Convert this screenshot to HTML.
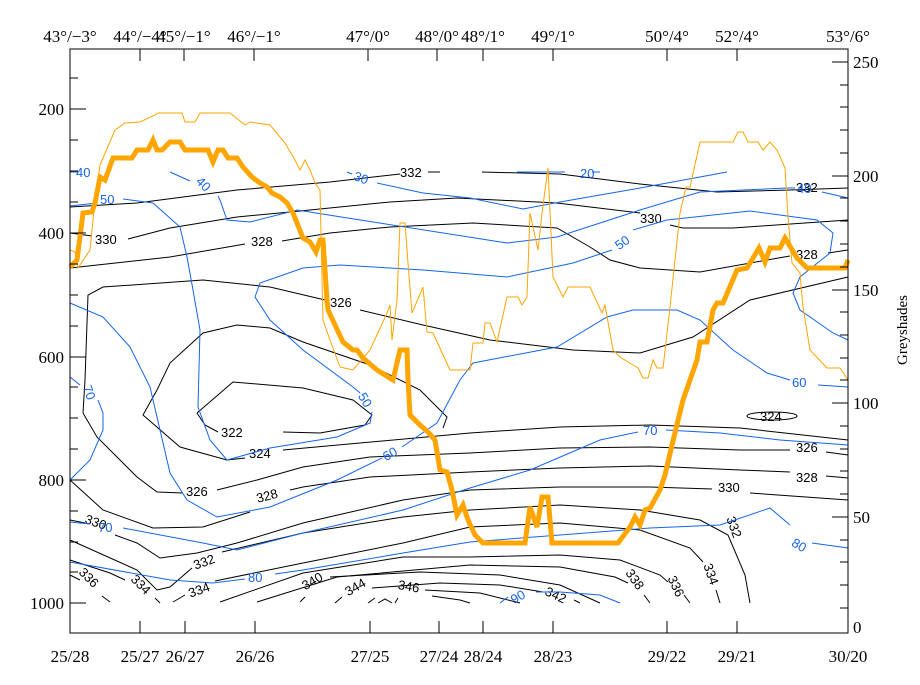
<!DOCTYPE html>
<html><head><meta charset="utf-8"><style>
html,body{margin:0;padding:0;background:#fff;}
svg{display:block;}
text{font-family:"Liberation Serif",serif;font-size:17px;fill:#000;}
.k{fill:none;stroke:#000;stroke-width:1;}
.b{fill:none;stroke:#1464f0;stroke-width:1;}
.lb{font-family:"Liberation Sans",sans-serif;font-size:13px;fill:#000;}
.lbb{font-family:"Liberation Sans",sans-serif;font-size:13px;fill:#1464f0;}
</style></head><body>
<svg width="920" height="685" viewBox="0 0 920 685" xmlns="http://www.w3.org/2000/svg">
<rect width="920" height="685" fill="#fff"/>
<!-- black contours -->
<polyline class="k" points="70,207 137,203 237,190 330,182 400,174"/>
<polyline class="k" points="428,172 440,172"/>
<polyline class="k" points="482,172 560,174 640,184 717,192 790,190 848,188"/>
<polyline class="k" points="70,233 92,236"/>
<polyline class="k" points="128,239 170,228 237,217 290,212 390,202 457,198 557,203 640,213"/>
<polyline class="k" points="670,225 683,228 733,228 848,220"/>
<polyline class="k" points="70,268 170,257 245,244"/>
<polyline class="k" points="282,241 330,233 390,227 473,223 557,228 590,247 610,260 640,268 700,272 767,260 790,256"/>
<polyline class="k" points="828,253 848,250"/>
<polyline class="k" points="83,413 85,380 88,295 103,287 203,280 270,287 325,300"/>
<polyline class="k" points="360,310 423,325 490,340 573,350 640,353 693,337 750,300 848,277"/>
<polyline class="k" points="83,413 97,437 137,477 157,492 183,493"/>
<polyline class="k" points="217,490 257,480 303,467 370,457 470,453 560,448 650,447 740,450 790,450"/>
<polyline class="k" points="826,452 848,455"/>
<polyline class="k" points="197,413 233,382 303,388 353,400 372,415 365,425 320,433 283,432"/>
<polyline class="k" points="197,413 205,425 218,432"/>
<polyline class="k" points="283,450 470,433 560,427 650,425 740,428 848,440"/>
<polyline class="k" points="227,460 180,447 143,415 157,390 170,363 203,333 237,325 270,328 303,342 370,365 420,390 447,417 443,428"/>
<polyline class="k" points="227,460 245,458"/>
<ellipse class="k" cx="772" cy="416" rx="25" ry="4"/>
<polyline class="k" points="70,480 103,510 153,528 203,527 250,512"/>
<polyline class="k" points="290,490 303,487 370,477 470,472 560,468 650,466 740,470 790,472"/>
<polyline class="k" points="826,476 848,478"/>
<polyline class="k" points="70,520 85,523"/>
<polyline class="k" points="115,535 137,543 160,558 197,553 237,543 303,523 403,500 470,490 560,487 650,487 712,489"/>
<polyline class="k" points="750,493 848,500"/>
<polyline class="k" points="70,540 137,570 157,590 170,587 192,568"/>
<polyline class="k" points="222,552 303,533 403,517 470,510 560,505 640,510 700,520 728,535 745,575 750,603"/>
<polyline class="k" points="70,560 110,573 125,580"/>
<polyline class="k" points="155,598 160,603"/>
<polyline class="k" points="173,602 185,595"/>
<polyline class="k" points="215,581 303,563 403,543 470,527 560,523 640,530 690,548 703,562"/>
<polyline class="k" points="716,590 720,603"/>
<polyline class="k" points="70,575 80,580"/>
<polyline class="k" points="102,596 110,602"/>
<polyline class="k" points="220,602 303,573 403,557 470,557 560,555 620,560 660,575 668,582"/>
<polyline class="k" points="684,595 690,603"/>
<polyline class="k" points="257,602 337,577 470,565 560,567 615,577 628,583"/>
<polyline class="k" points="644,595 650,603"/>
<polyline class="k" points="300,602 305,597"/>
<polyline class="k" points="330,577 420,572 500,575 560,585 600,603"/>
<polyline class="k" points="335,603 342,597"/>
<polyline class="k" points="372,588 440,583 500,585 543,592"/>
<polyline class="k" points="574,600 580,603"/>
<polyline class="k" points="368,603 375,598"/>
<polyline class="k" points="425,590 480,593 520,603"/>
<polyline class="k" points="395,603 398,598"/>
<polyline class="k" points="432,596 460,600 470,603"/>
<polyline class="k" points="378,603 385,599 392,603"/>
<!-- black labels -->
<text class="lb" x="400" y="177">332</text>
<text class="lb" x="95" y="244">330</text>
<text class="lb" x="251" y="246">328</text>
<text class="lb" x="330" y="307">326</text>
<text class="lb" x="640" y="223">330</text>
<text class="lb" x="796" y="259">328</text>
<text class="lb" x="796" y="192">332</text>
<text class="lb" x="221" y="437">322</text>
<text class="lb" x="249" y="458">324</text>
<text class="lb" x="186" y="496">326</text>
<text class="lb" x="256" y="500" transform="rotate(-15 268 495)">328</text>
<text class="lb" x="85" y="527" transform="rotate(20 97 522)">330</text>
<text class="lb" x="193" y="566" transform="rotate(-20 205 561)">332</text>
<text class="lb" x="188" y="594" transform="rotate(-20 200 589)">334</text>
<text class="lb" x="130" y="590" transform="rotate(45 142 585)">334</text>
<text class="lb" x="78" y="583" transform="rotate(45 90 578)">336</text>
<text class="lb" x="301" y="585" transform="rotate(-30 313 580)">340</text>
<text class="lb" x="344" y="591" transform="rotate(-30 356 586)">344</text>
<text class="lb" x="398" y="591" transform="rotate(10 410 586)">346</text>
<text class="lb" x="545" y="600" transform="rotate(25 557 595)">342</text>
<text class="lb" x="624" y="585" transform="rotate(55 636 580)">338</text>
<text class="lb" x="665" y="592" transform="rotate(65 677 587)">336</text>
<text class="lb" x="700" y="580" transform="rotate(70 712 575)">334</text>
<text class="lb" x="723" y="533" transform="rotate(70 735 528)">332</text>
<text class="lb" x="760" y="421">324</text>
<text class="lb" x="796" y="452">326</text>
<text class="lb" x="796" y="482">328</text>
<text class="lb" x="718" y="492">330</text>
<!-- blue contours -->
<polyline class="b" points="70,172 78,172"/>
<polyline class="b" points="70,206 97,203"/>
<polyline class="b" points="347,172 352,174"/>
<polyline class="b" points="377,183 423,193 470,198 523,209 560,202 600,195 640,188 727,172"/>
<polyline class="b" points="517,172 565,172"/>
<polyline class="b" points="592,172 600,172"/>
<polyline class="b" points="170,172 190,181"/>
<polyline class="b" points="218,196 220,200 227,220 250,222 297,210 373,222 507,243 557,237 640,210 700,192 787,188 795,188"/>
<polyline class="b" points="822,192 848,198"/>
<polyline class="b" points="123,199 153,203 180,227 187,257 193,290 200,330 198,407 210,440 227,460 270,448 337,437 370,423 372,412"/>
<polyline class="b" points="360,393 353,387 303,350 270,320 255,297 260,283 303,268 340,265 423,270 507,277 573,263 612,250"/>
<polyline class="b" points="633,230 667,220 750,211 817,220 833,233 830,253 800,277 793,293 800,310 833,333 848,340"/>
<polyline class="b" points="70,303 103,317 130,347 150,387 160,430 170,473 187,500 217,517 270,507 337,480 382,458"/>
<polyline class="b" points="402,447 437,423 460,380 473,363 557,347 607,317 633,310 677,310 700,320 733,350 767,373 790,380"/>
<polyline class="b" points="818,385 848,387"/>
<polyline class="b" points="70,377 80,385"/>
<polyline class="b" points="98,400 103,413 103,430 90,460 70,480"/>
<polyline class="b" points="70,522 90,524"/>
<polyline class="b" points="123,528 203,543 237,550 303,533 403,510 470,488 530,470 600,440 638,432"/>
<polyline class="b" points="666,430 720,433 780,440 848,445"/>
<polyline class="b" points="70,562 170,580 213,583 245,579"/>
<polyline class="b" points="275,574 303,570 403,553 470,542 560,535 650,528 720,525 770,508 790,525"/>
<polyline class="b" points="812,543 848,548"/>
<polyline class="b" points="500,603 508,597"/>
<polyline class="b" points="536,592 560,592 600,595 620,603"/>
<text class="lbb" x="76" y="177">40</text>
<text class="lbb" x="100" y="204">50</text>
<text class="lbb" x="354" y="183" transform="rotate(20 363 178)">30</text>
<text class="lbb" x="580" y="178">20</text>
<text class="lbb" x="196" y="190" transform="rotate(45 205 185)">40</text>
<text class="lbb" x="797" y="193">40</text>
<text class="lbb" x="614" y="245" transform="rotate(-35 625 240)">50</text>
<text class="lbb" x="357" y="407" transform="rotate(60 367 402)">50</text>
<text class="lbb" x="382" y="457" transform="rotate(-30 392 452)">60</text>
<text class="lbb" x="792" y="387">60</text>
<text class="lbb" x="82" y="398" transform="rotate(70 90 393)">70</text>
<text class="lbb" x="643" y="435">70</text>
<text class="lbb" x="98" y="532">70</text>
<text class="lbb" x="248" y="582">80</text>
<text class="lbb" x="792" y="550" transform="rotate(30 800 545)">80</text>
<text class="lbb" x="510" y="600" transform="rotate(-30 520 595)">90</text>
<!-- orange thin -->
<polyline fill="none" stroke="#ffa500" stroke-width="1" points="70,250 75,252 78,268 90,250 95,200 100,165 115,130 125,123 140,122 155,115 158,113 182,113 185,122 195,122 200,113 230,113 245,125 250,122 270,125 285,143 295,160 300,170 305,160 310,170 315,183 320,190 323,320 330,340 340,367 353,370 370,350 387,313 390,305 392,340 397,300 400,223 405,223 408,263 412,313 423,287 427,332 433,333 450,370 470,370 473,343 483,343 485,323 490,323 497,342 507,297 518,297 522,305 527,297 530,213 538,250 542,213 548,168 553,277 563,297 568,287 590,287 602,313 605,305 613,350 620,357 638,368 643,378 648,378 653,360 657,368 663,368 670,307 680,213 686,187 690,187 700,142 733,142 738,132 743,132 748,142 758,142 763,150 770,142 777,150 785,168 788,217 792,263 800,273 803,307 810,350 827,368 840,368 848,380"/>
<!-- orange thick -->
<polyline fill="none" stroke="#ffa500" stroke-width="5" stroke-linejoin="miter" points="70,267 77,260 83,213 92,212 95,203 100,177 105,180 113,158 132,158 137,150 148,150 153,140 157,150 162,150 170,142 180,142 185,150 208,150 213,162 218,150 223,150 228,158 237,158 243,167 252,177 260,183 267,187 272,193 280,197 287,203 293,213 303,238 310,242 316,252 320,240 323,240 327,300 328,310 343,342 353,350 357,350 363,358 377,370 393,380 400,350 407,350 408,380 410,415 420,425 428,432 435,440 440,470 447,472 452,490 457,515 463,505 468,520 475,535 483,543 525,543 530,507 537,527 542,497 548,497 552,543 618,543 630,527 635,517 640,525 645,510 650,508 660,490 665,475 672,445 683,400 697,360 700,342 707,342 713,310 717,303 723,303 737,270 747,268 759,248 765,262 770,248 780,248 785,238 797,258 807,268 845,268 848,260"/>
<!-- axes -->
<rect x="70" y="49" width="778" height="584" fill="none" stroke="#000" stroke-width="1"/>
<g stroke="#000" stroke-width="1">
<line x1="140" y1="49" x2="140" y2="61"/><line x1="184" y1="49" x2="184" y2="61"/><line x1="254" y1="49" x2="254" y2="61"/><line x1="368" y1="49" x2="368" y2="61"/><line x1="437" y1="49" x2="437" y2="61"/><line x1="483" y1="49" x2="483" y2="61"/><line x1="553" y1="49" x2="553" y2="61"/><line x1="667" y1="49" x2="667" y2="61"/><line x1="737" y1="49" x2="737" y2="61"/>
<line x1="140" y1="633" x2="140" y2="621"/><line x1="185" y1="633" x2="185" y2="621"/><line x1="255" y1="633" x2="255" y2="621"/><line x1="370" y1="633" x2="370" y2="621"/><line x1="439" y1="633" x2="439" y2="621"/><line x1="483" y1="633" x2="483" y2="621"/><line x1="553" y1="633" x2="553" y2="621"/><line x1="667" y1="633" x2="667" y2="621"/><line x1="737" y1="633" x2="737" y2="621"/>
<line x1="70" y1="78" x2="78" y2="78"/><line x1="70" y1="109" x2="86" y2="109"/><line x1="70" y1="140" x2="78" y2="140"/><line x1="70" y1="171" x2="78" y2="171"/><line x1="70" y1="202" x2="78" y2="202"/><line x1="70" y1="233" x2="86" y2="233"/><line x1="70" y1="264" x2="78" y2="264"/><line x1="70" y1="295" x2="78" y2="295"/><line x1="70" y1="326" x2="78" y2="326"/><line x1="70" y1="357" x2="86" y2="357"/><line x1="70" y1="387" x2="78" y2="387"/><line x1="70" y1="418" x2="78" y2="418"/><line x1="70" y1="449" x2="78" y2="449"/><line x1="70" y1="480" x2="86" y2="480"/><line x1="70" y1="511" x2="78" y2="511"/><line x1="70" y1="542" x2="78" y2="542"/><line x1="70" y1="572" x2="78" y2="572"/><line x1="70" y1="603" x2="86" y2="603"/>
<line x1="848" y1="62" x2="832" y2="62"/><line x1="848" y1="85" x2="840" y2="85"/><line x1="848" y1="107" x2="840" y2="107"/><line x1="848" y1="130" x2="840" y2="130"/><line x1="848" y1="153" x2="840" y2="153"/><line x1="848" y1="176" x2="832" y2="176"/><line x1="848" y1="198" x2="840" y2="198"/><line x1="848" y1="221" x2="840" y2="221"/><line x1="848" y1="244" x2="840" y2="244"/><line x1="848" y1="267" x2="840" y2="267"/><line x1="848" y1="290" x2="832" y2="290"/><line x1="848" y1="312" x2="840" y2="312"/><line x1="848" y1="335" x2="840" y2="335"/><line x1="848" y1="358" x2="840" y2="358"/><line x1="848" y1="380" x2="840" y2="380"/><line x1="848" y1="403" x2="832" y2="403"/><line x1="848" y1="426" x2="840" y2="426"/><line x1="848" y1="449" x2="840" y2="449"/><line x1="848" y1="471" x2="840" y2="471"/><line x1="848" y1="494" x2="840" y2="494"/><line x1="848" y1="517" x2="832" y2="517"/><line x1="848" y1="540" x2="840" y2="540"/><line x1="848" y1="562" x2="840" y2="562"/><line x1="848" y1="585" x2="840" y2="585"/><line x1="848" y1="608" x2="840" y2="608"/>
</g>
<g text-anchor="middle">
<text x="70" y="42">43°/−3°</text><text x="140" y="42">44°/−4°</text><text x="184" y="42">45°/−1°</text><text x="254" y="42">46°/−1°</text><text x="368" y="42">47°/0°</text><text x="437" y="42">48°/0°</text><text x="483" y="42">48°/1°</text><text x="553" y="42">49°/1°</text><text x="667" y="42">50°/4°</text><text x="737" y="42">52°/4°</text><text x="848" y="42">53°/6°</text>
<text x="70" y="662">25/28</text><text x="140" y="662">25/27</text><text x="185" y="662">26/27</text><text x="255" y="662">26/26</text><text x="370" y="662">27/25</text><text x="439" y="662">27/24</text><text x="483" y="662">28/24</text><text x="553" y="662">28/23</text><text x="667" y="662">29/22</text><text x="737" y="662">29/21</text><text x="848" y="662">30/20</text>
</g>
<g text-anchor="end">
<text x="64" y="115">200</text><text x="64" y="239">400</text><text x="64" y="363">600</text><text x="64" y="486">800</text><text x="64" y="609">1000</text>
</g>
<g>
<text x="853" y="68">250</text><text x="853" y="182">200</text><text x="853" y="296">150</text><text x="853" y="409">100</text><text x="853" y="523">50</text><text x="853" y="633">0</text>
</g>
<text x="907" y="330" text-anchor="middle" transform="rotate(-90 907 330)" style="font-size:15px">Greyshades</text>
</svg>
</body></html>
